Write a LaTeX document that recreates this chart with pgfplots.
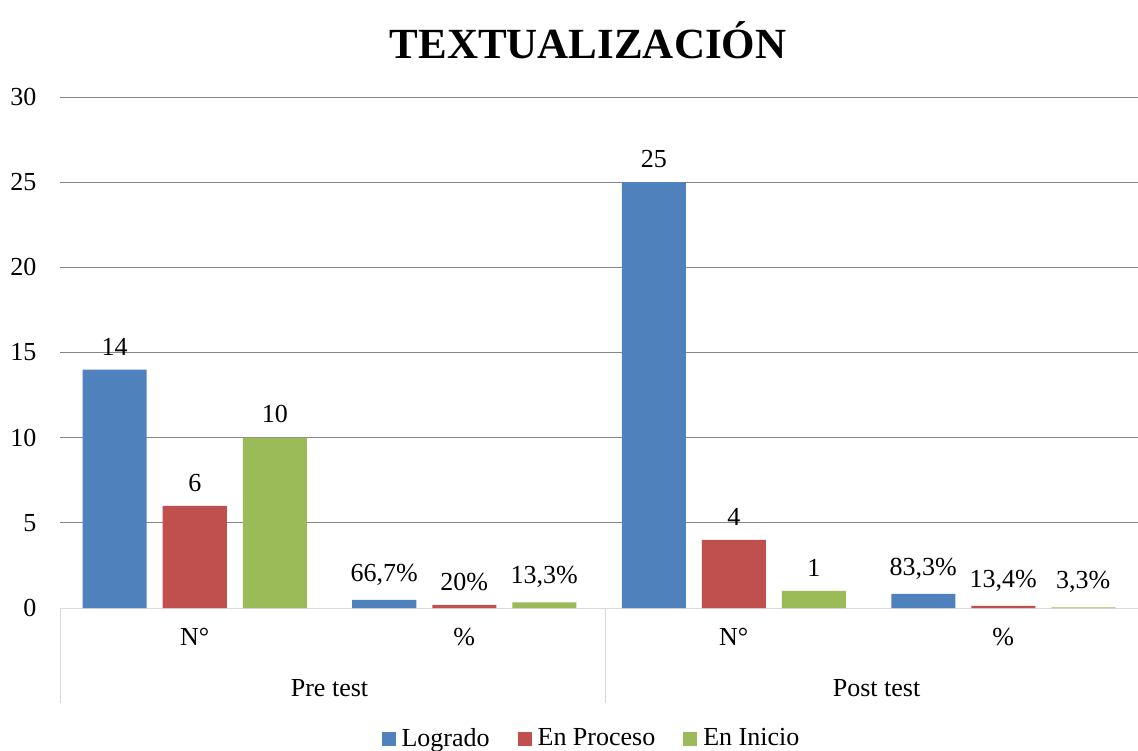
\documentclass[border=0pt]{standalone}
\usepackage{pgfplots}
\pgfplotsset{compat=1.18}
\usepackage{pgfplotstable}
\usepackage{fontspec}
\setmainfont{Liberation Serif}
\definecolor{cblue}{HTML}{4F81BD}
\definecolor{cred}{HTML}{C0504D}
\definecolor{cgreen}{HTML}{9BBB59}
\definecolor{cgrid}{HTML}{868686}
\definecolor{caxis}{HTML}{D9D9D9}
\pgfplotstableread{
x y lab
0 14 14
1 0.47 {66,7\%}
2 25 25
3 0.83 {83,3\%}
}\logrado
\pgfplotstableread{
x y lab
0 6 6
1 0.18 {20\%}
2 4 4
3 0.12 {13,4\%}
}\proceso
\pgfplotstableread{
x y lab
0 10 10
1 0.33 {13,3\%}
2 1 1
3 0.03 {3,3\%}
}\inicio
\newcommand{\fs}{\fontsize{26bp}{30bp}\selectfont}
\begin{document}
\begin{tikzpicture}
\useasboundingbox (0,0) rectangle (1138bp,751bp);
\begin{axis}[
  at={(60bp,143bp)}, anchor=south west,
  scale only axis, width=1078bp, height=511bp,
  ymin=0, ymax=30, ytick={0,5,...,30},
  xmin=-0.5, xmax=3.5,
  xtick={0,1,2,3}, xticklabels={N°,\%,N°,\%},
  ybar=16bp, bar width=64bp,
  axis x line*=bottom, axis y line*=left,
  x axis line style={draw=caxis, line width=1bp, -},
  y axis line style={draw=none},
  major tick length=0,
  ymajorgrids, grid style={draw=cgrid, line width=0.8bp},
  tick label style={font=\fs},
  /pgf/number format/assume math mode=true,
  xticklabel style={yshift=-17bp},
  yticklabel style={xshift=-20bp},
  clip=false,
  point meta=explicit symbolic,
  nodes near coords={\pgfplotspointmeta},
  every node near coord/.append style={font=\fs, anchor=south, yshift=11bp},
  legend style={at={(0.493,-0.254)}, anchor=center, draw=none, legend columns=-1,
    font=\fs, inner sep=0pt,
    /tikz/every even column/.append style={column sep=26bp},
    /tikz/every odd column/.append style={column sep=4bp}},
  legend image code/.code={\fill[#1] (0bp,-8bp) rectangle (14bp,6bp);},
]
\addplot[fill=cblue, draw=none] table[x=x, y=y, meta=lab] {\logrado};
\addplot[fill=cred, draw=none] table[x=x, y=y, meta=lab] {\proceso};
\addplot[fill=cgreen, draw=none] table[x=x, y=y, meta=lab] {\inicio};
\legend{Logrado, En Proceso, En Inicio}
\draw[caxis, line width=1bp] (axis cs:-0.5,0) -- ([yshift=-95bp]axis cs:-0.5,0);
\draw[caxis, line width=1bp] (axis cs:1.525,0) -- ([yshift=-95bp]axis cs:1.525,0);
\node[font=\fs] at ([yshift=-80bp]axis cs:0.5,0) {Pre test};
\node[font=\fs] at ([yshift=-80bp]axis cs:2.53,0) {Post test};
\end{axis}
\node[font=\bfseries\fontsize{43bp}{48bp}\selectfont] at (588bp,711bp) {TEXTUALIZACIÓN};
\end{tikzpicture}
\end{document}
